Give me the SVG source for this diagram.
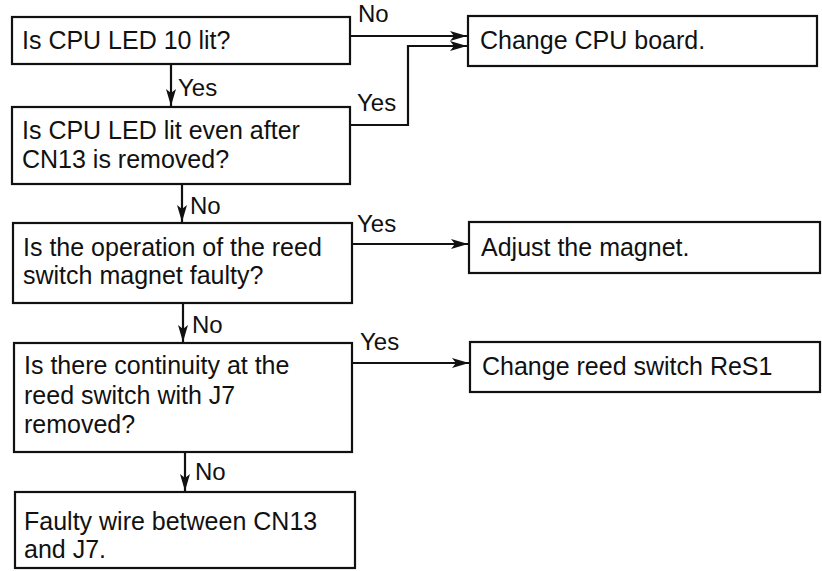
<svg xmlns="http://www.w3.org/2000/svg" width="822" height="571" viewBox="0 0 822 571">
<defs>
<style>
.box{fill:#fff;stroke:#111;stroke-width:2.2}
.t{font-family:"Liberation Sans",Arial,sans-serif;font-size:25px;fill:#111}
.lbl{font-family:"Liberation Sans",Arial,sans-serif;font-size:24px;fill:#111}
.c{fill:none;stroke:#111;stroke-width:2.2}
</style>
<marker id="ah" markerWidth="18" markerHeight="12" refX="17" refY="6" orient="auto" markerUnits="userSpaceOnUse">
<path d="M0,1 L17,6 L0,11 L4,6 Z" fill="#111"/>
</marker>
</defs>
<rect width="822" height="571" fill="#fff"/>
<g id="connectors">
<path class="c" d="M350,36 H467" marker-end="url(#ah)"/>
<path class="c" d="M350,125 H408 V46 H467" marker-end="url(#ah)"/>
<path class="c" d="M171,64 V106" marker-end="url(#ah)"/>
<path class="c" d="M182,184 V222" marker-end="url(#ah)"/>
<path class="c" d="M183,303 V342" marker-end="url(#ah)"/>
<path class="c" d="M185,452 V491" marker-end="url(#ah)"/>
<path class="c" d="M352,244 H468" marker-end="url(#ah)"/>
<path class="c" d="M352,363 H469" marker-end="url(#ah)"/>
<text class="lbl" x="358" y="22">No</text>
<text class="lbl" x="357" y="111">Yes</text>
<text class="lbl" x="178" y="96">Yes</text>
<text class="lbl" x="190" y="214">No</text>
<text class="lbl" x="192" y="333">No</text>
<text class="lbl" x="195" y="480">No</text>
<text class="lbl" x="357" y="232">Yes</text>
<text class="lbl" x="360" y="350">Yes</text>
</g>
<g id="q1">
<rect class="box" x="12" y="17" width="338" height="47"/>
<text class="t" x="22" y="49">Is CPU LED 10 lit?</text>
</g>
<g id="q2">
<rect class="box" x="12" y="107" width="338" height="77"/>
<text class="t" x="22" y="139">Is CPU LED lit even after</text>
<text class="t" x="22" y="168">CN13 is removed?</text>
</g>
<g id="q3">
<rect class="box" x="13" y="223" width="339" height="80"/>
<text class="t" x="23" y="256">Is the operation of the reed</text>
<text class="t" x="23" y="284">switch magnet faulty?</text>
</g>
<g id="q4">
<rect class="box" x="14" y="343" width="338" height="109"/>
<text class="t" x="24" y="374">Is there continuity at the</text>
<text class="t" x="24" y="404">reed switch with J7</text>
<text class="t" x="24" y="433">removed?</text>
</g>
<g id="r5">
<rect class="box" x="15" y="492" width="340" height="76"/>
<text class="t" x="24" y="530">Faulty wire between CN13</text>
<text class="t" x="24" y="558">and J7.</text>
</g>
<g id="a1">
<rect class="box" x="468" y="16" width="349" height="50"/>
<text class="t" x="480" y="49">Change CPU board.</text>
</g>
<g id="a2">
<rect class="box" x="469" y="222" width="351" height="51"/>
<text class="t" x="481" y="256">Adjust the magnet.</text>
</g>
<g id="a3">
<rect class="box" x="470" y="342" width="350" height="50"/>
<text class="t" x="482" y="375">Change reed switch ReS1</text>
</g>
</svg>
